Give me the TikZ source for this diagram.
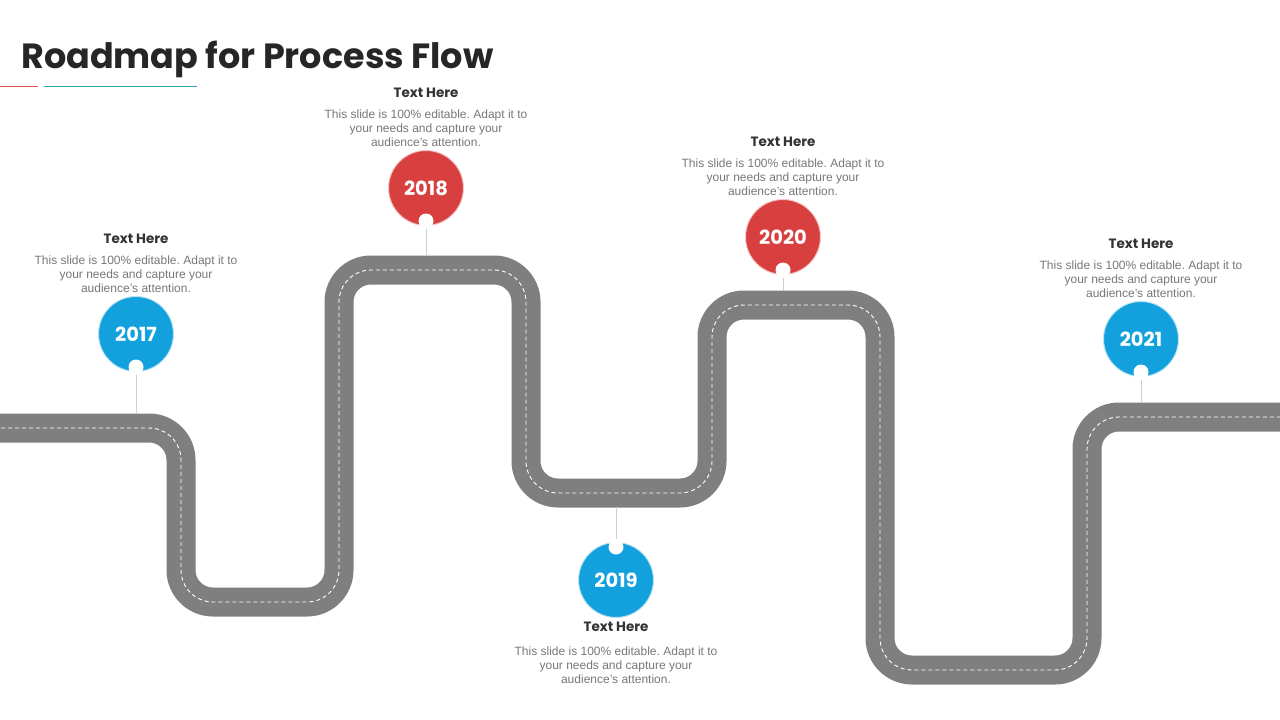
\documentclass[tikz,border=0pt]{standalone}
\usepackage{fontspec}
\setmainfont{Liberation Sans}
\newfontfamily\headfont{Poppins}
\usetikzlibrary{positioning}

\definecolor{roadgray}{HTML}{7F7F7F}
\definecolor{yearblue}{HTML}{12A1DD}
\definecolor{yearred}{HTML}{D8403F}
\definecolor{titlegray}{HTML}{262626}
\definecolor{headgray}{HTML}{333333}
\definecolor{bodygray}{HTML}{777777}
\definecolor{stemgray}{HTML}{D0D0D0}
\definecolor{linered}{HTML}{D9534F}
\definecolor{lineteal}{HTML}{2AA7B5}

\frenchspacing
\begin{document}
\begin{tikzpicture}[
    x=1pt, y=-1pt,
    year/.style={circle, minimum size=75pt, inner sep=0pt, text=white, line width=1pt,
        font=\headfont\bfseries\fontsize{19.5}{20}\selectfont},
    blueyear/.style={year, fill=yearblue, draw=yearblue!30},
    redyear/.style={year, fill=yearred, draw=yearred!30},
    pin/.style={circle, fill=white, minimum size=15pt, inner sep=0pt},
    heading/.style={font=\headfont\bfseries\fontsize{13.5}{16}\selectfont, text=headgray, inner sep=1pt},
    body/.style={font=\fontsize{12}{14}\selectfont, text=bodygray, align=center, inner sep=1pt},
    stem/.style={draw=stemgray, line width=0.8pt},
    road/.style={draw=roadgray, line width=29pt, rounded corners=32pt},
    lane/.style={draw=white, line width=0.9pt, dash pattern=on 4pt off 3pt, rounded corners=32pt}
]
\useasboundingbox (0,0) rectangle (1280,720);

% Title
\node[anchor=west, inner sep=0pt, text=titlegray, font=\headfont\bfseries\fontsize{35}{38}\selectfont] (title) at (21,59) {Roadmap for Process Flow};
\draw[linered, line width=1pt] (0,86) -- (38,86);
\draw[lineteal, line width=1pt] (44,86) -- (197,86);

% Road
\draw[road] (-20,428) -- (181,428) -- (181,602) -- (339,602) -- (339,270) -- (526,270)
    -- (526,493) -- (712,493) -- (712,305) -- (880,305) -- (880,670) -- (1087,670)
    -- (1087,417) -- (1300,417);
\draw[lane] (-20,428) -- (181,428) -- (181,602) -- (339,602) -- (339,270) -- (526,270)
    -- (526,493) -- (712,493) -- (712,305) -- (880,305) -- (880,670) -- (1087,670)
    -- (1087,417) -- (1300,417);

% Year circles
\node[blueyear] (y2017) at (136,334) {2017};
\node[redyear] (y2018) at (426,188) {2018};
\node[blueyear] (y2019) at (616,580) {2019};
\node[redyear] (y2020) at (783,237) {2020};
\node[blueyear] (y2021) at (1141,339) {2021};

% Pins
\node[pin, yshift=5pt] (p2017) at (y2017.south) {};
\node[pin, yshift=5pt] (p2018) at (y2018.south) {};
\node[pin, yshift=-5pt] (p2019) at (y2019.north) {};
\node[pin, yshift=5pt] (p2020) at (y2020.south) {};
\node[pin, yshift=5pt] (p2021) at (y2021.south) {};

% Points on the road
\coordinate (r2017) at (136,414);
\coordinate (r2018) at (426,256);
\coordinate (r2019) at (616,507);
\coordinate (r2020) at (783,291);
\coordinate (r2021) at (1141,403);

% Stems
\draw[stem] (p2017) -- (r2017);
\draw[stem] (p2018) -- (r2018);
\draw[stem] (p2019) -- (r2019);
\draw[stem] (p2020) -- (r2020);
\draw[stem] (p2021) -- (r2021);

% Texts
\node[body, above=2pt of y2017] (b2017) {This slide is 100\% editable. Adapt it to\\your needs and capture your\\audience's attention.};
\node[heading, above=10pt of b2017] (h2017) {Text Here};
\node[body, above=2pt of y2018] (b2018) {This slide is 100\% editable. Adapt it to\\your needs and capture your\\audience's attention.};
\node[heading, above=10pt of b2018] (h2018) {Text Here};
\node[heading, below=3pt of y2019] (h2019) {Text Here};
\node[body, below=13pt of h2019] (b2019) {This slide is 100\% editable. Adapt it to\\your needs and capture your\\audience's attention.};
\node[body, above=2pt of y2020] (b2020) {This slide is 100\% editable. Adapt it to\\your needs and capture your\\audience's attention.};
\node[heading, above=10pt of b2020] (h2020) {Text Here};
\node[body, above=2pt of y2021] (b2021) {This slide is 100\% editable. Adapt it to\\your needs and capture your\\audience's attention.};
\node[heading, above=10pt of b2021] (h2021) {Text Here};

\end{tikzpicture}
\end{document}
